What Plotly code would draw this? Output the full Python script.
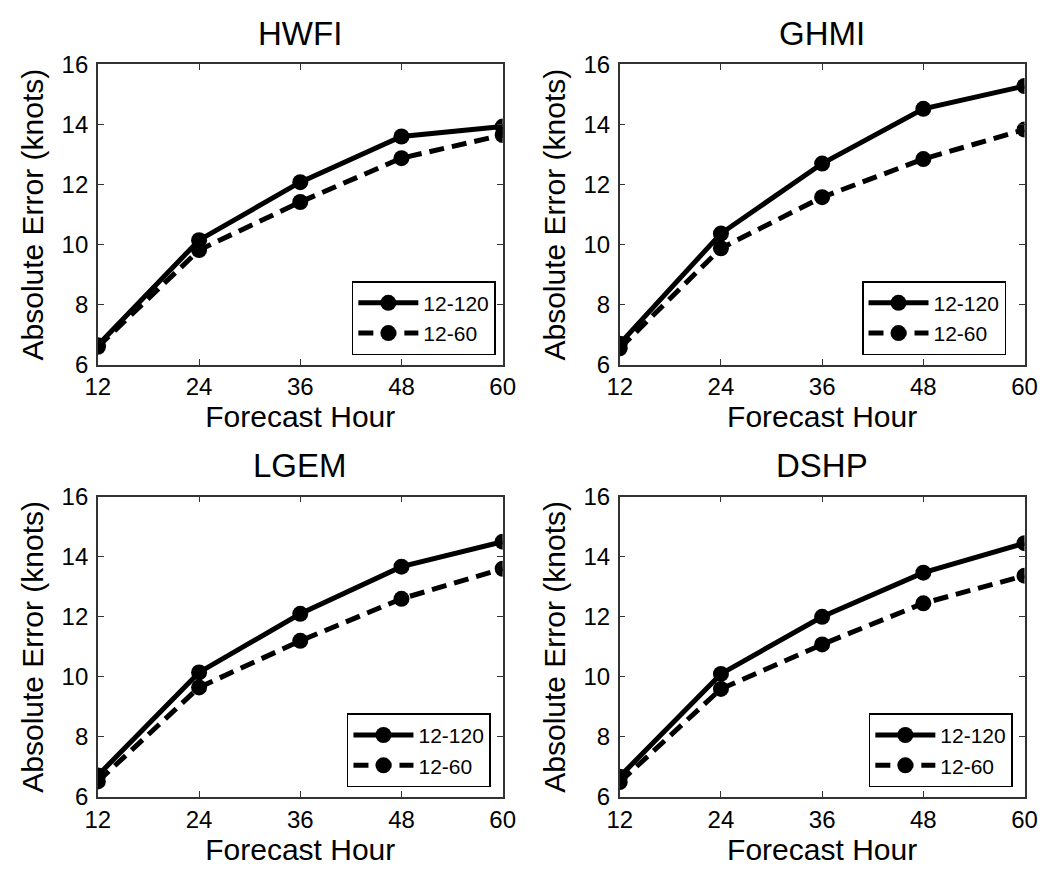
import plotly.graph_objects as go

# Forecast lead times (hours)
hours = [12, 24, 36, 48, 60]
tick_labels = ["12", "24", "36", "48", "60"]

# Mean absolute intensity error (knots) per model
models = ["HWFI", "GHMI", "LGEM", "DSHP"]
hwfi_12_120 = [6.65, 10.15, 12.08, 13.60, 13.93]
hwfi_12_60 = [6.60, 9.82, 11.42, 12.88, 13.65]
ghmi_12_120 = [6.70, 10.37, 12.70, 14.52, 15.28]
ghmi_12_60 = [6.55, 9.88, 11.58, 12.85, 13.83]
lgem_12_120 = [6.72, 10.15, 12.10, 13.67, 14.50]
lgem_12_60 = [6.52, 9.65, 11.20, 12.60, 13.60]
dshp_12_120 = [6.68, 10.10, 12.00, 13.47, 14.45]
dshp_12_60 = [6.50, 9.60, 11.08, 12.45, 13.37]

series = {
    "HWFI": (hwfi_12_120, hwfi_12_60),
    "GHMI": (ghmi_12_120, ghmi_12_60),
    "LGEM": (lgem_12_120, lgem_12_60),
    "DSHP": (dshp_12_120, dshp_12_60),
}

W, H = 1059, 875
FONT = "Liberation Sans, Arial, Helvetica, sans-serif"

# Panel boxes in pixels: (left, right, top, bottom)
boxes = [
    (87, 502, 52, 362),
    (622, 1037, 52, 362),
    (87, 502, 498, 808),
    (622, 1037, 498, 808),
]
# Legend anchor (right, bottom) in pixels
legend_pos = [(495, 352), (1018, 352), (490, 798), (1025, 798)]

fig = go.Figure()
layout = dict(
    width=W, height=H,
    margin=dict(l=0, r=0, t=0, b=0),
    paper_bgcolor="white", plot_bgcolor="white",
    font=dict(family=FONT, color="black", size=22),
    annotations=[],
)

for i, name in enumerate(models):
    k = "" if i == 0 else str(i + 1)
    xa, ya = "x" + k, "y" + k
    leg = "legend" if i == 0 else "legend" + str(i + 1)
    long_run, short_run = series[name]

    fig.add_trace(go.Scatter(
        x=hours, y=long_run, name="12-120", mode="lines+markers",
        xaxis=xa, yaxis=ya, legend=leg,
        line=dict(color="black", width=5),
        marker=dict(symbol="circle", size=16, color="black"),
    ))
    fig.add_trace(go.Scatter(
        x=hours, y=short_run, name="12-60", mode="lines+markers",
        xaxis=xa, yaxis=ya, legend=leg,
        line=dict(color="black", width=5, dash="15px,8px"),
        marker=dict(symbol="circle", size=16, color="black"),
    ))

    l, r, t, b = boxes[i]
    axis_common = dict(
        showline=True, linecolor="#333333", linewidth=1.5, mirror="ticks",
        ticks="inside", ticklen=6, tickwidth=1.2, tickcolor="#333333",
        showgrid=False, zeroline=False, fixedrange=True,
        tickfont=dict(size=24, family=FONT, color="black"),
    )
    layout["xaxis" + k] = dict(
        axis_common,
        domain=[l / W, r / W], anchor=ya, range=[12, 60],
        tickvals=hours, ticktext=tick_labels, ticklabelstandoff=0,
        title=dict(text="Forecast Hour", font=dict(size=30, family=FONT), standoff=0),
    )
    layout["yaxis" + k] = dict(
        axis_common,
        domain=[1 - b / H, 1 - t / H], anchor=xa, range=[6, 16],
        tickvals=[6, 8, 10, 12, 14, 16], ticklabelstandoff=3,
        title=dict(text="Absolute Error (knots)", font=dict(size=30, family=FONT), standoff=9),
    )
    lr, lb = legend_pos[i]
    layout[leg] = dict(
        x=lr / W, y=1 - lb / H, xanchor="right", yanchor="bottom",
        bordercolor="black", borderwidth=1.5, bgcolor="white",
        font=dict(size=21, family=FONT), itemwidth=60,
        tracegroupgap=0,
    )
    layout["annotations"].append(dict(
        text=name, x=(l + r) / 2 / W, y=1 - (t - 32) / H,
        xref="paper", yref="paper", xanchor="center", yanchor="middle",
        showarrow=False, font=dict(size=33, family=FONT, color="black"),
    ))

fig.update_layout(**layout)
fig.write_html("out.html")
